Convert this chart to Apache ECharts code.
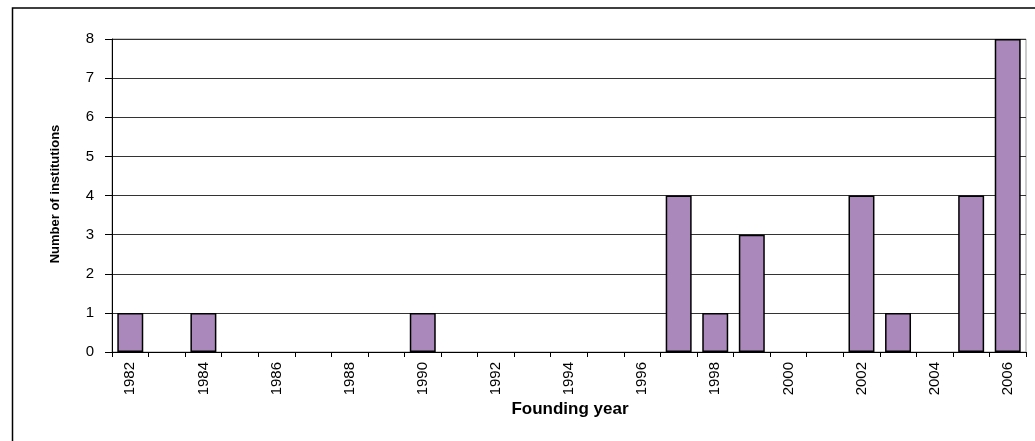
<!DOCTYPE html>
<html>
<head>
<meta charset="utf-8">
<script src="https://cdn.jsdelivr.net/npm/echarts@6/dist/echarts.min.js"></script>
<style>
html,body{margin:0;padding:0;background:#fff;}
#chart{width:1035px;height:441px;}
</style>
</head>
<body>
<div id="chart"></div>
<script>
const years = ['1982','1983','1984','1985','1986','1987','1988','1989','1990','1991','1992','1993','1994','1995','1996','1997','1998','1999','2000','2001','2002','2003','2004','2005','2006'];
const institutions = [1,0,1,0,0,0,0,0,1,0,0,0,0,0,0,4,1,3,0,0,4,1,0,4,8];
const yTicks = [0,1,2,3,4,5,6,7,8];
const xTitle = 'Founding year';
const yTitle = 'Number of institutions';

const chart = echarts.init(document.getElementById('chart'), null, {renderer:'canvas'});
const font = 'Liberation Sans, Arial, sans-serif';
chart.setOption({
  animation:false,
  backgroundColor:'#fff',
  grid:{left:112, right:9, top:39, bottom:89, show:true, borderColor:'#999', borderWidth:1, backgroundColor:'transparent'},
  xAxis:{
    type:'category',
    data:years,
    boundaryGap:true,
    axisLine:{show:true, lineStyle:{color:'#000', width:1}},
    axisTick:{show:true, interval:0, length:5, lineStyle:{color:'#000'}},
    axisLabel:{interval:1, rotate:90, fontSize:15, fontFamily:font, color:'#000', margin:10},
    splitLine:{show:false}
  },
  yAxis:{
    type:'value',
    min:yTicks[0], max:yTicks[yTicks.length-1], interval:1,
    axisLine:{show:true, lineStyle:{color:'#000', width:1}},
    axisTick:{show:true, length:7, lineStyle:{color:'#000'}},
    axisLabel:{fontSize:15, fontFamily:font, color:'#000', margin:18},
    splitLine:{show:true, lineStyle:{color:'#333', width:1}}
  },
  series:[{
    type:'bar',
    data:institutions.map(v => v === 0 ? '-' : v),
    barCategoryGap:'29%',
    itemStyle:{color:'#ab88bb', borderColor:'#000', borderWidth:1.5}
  }],
  graphic:[
    {type:'rect', shape:{x:12.5, y:8, width:1100, height:600}, style:{fill:'none', stroke:'#000', lineWidth:1.5}, silent:true},
    {type:'text', x:570, y:409, style:{text:xTitle, font:'bold 17px ' + font, fill:'#000', align:'center', verticalAlign:'middle'}},
    {type:'text', x:55, y:194, rotation:Math.PI/2, style:{text:yTitle, font:'bold 13px ' + font, fill:'#000', align:'center', verticalAlign:'middle'}}
  ]
});
</script>
</body>
</html>
